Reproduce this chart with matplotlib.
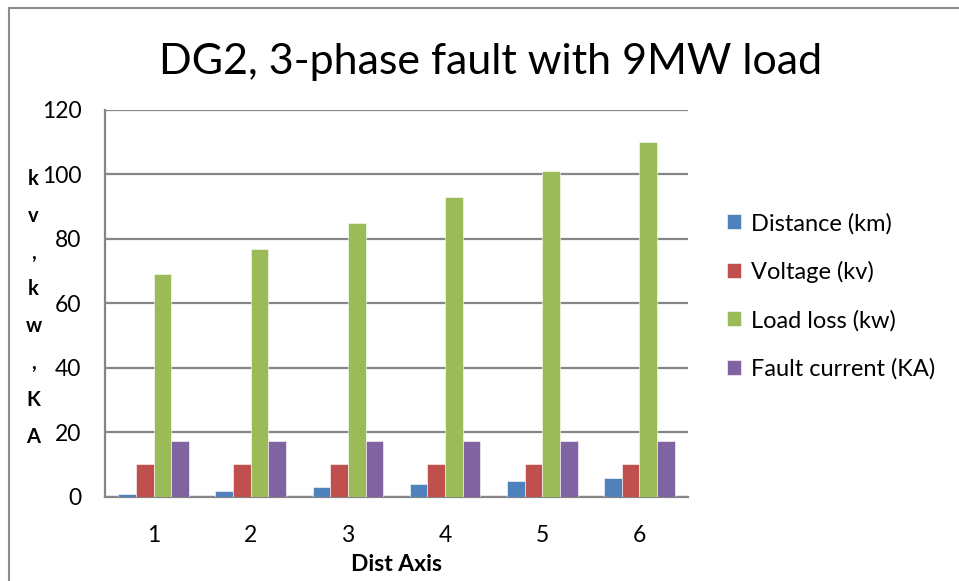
import matplotlib
matplotlib.use("Agg")
import matplotlib.pyplot as plt
import numpy as np
from matplotlib.lines import Line2D

plt.rcParams['font.family'] = ['Lato', 'DejaVu Sans']

# data
categories = ['1', '2', '3', '4', '5', '6']
distance = [1, 2, 3, 4, 5, 6]
voltage = [10.3, 10.3, 10.3, 10.3, 10.3, 10.3]
load_loss = [69, 77, 85, 93, 101, 110]
fault_current = [17.5, 17.5, 17.5, 17.5, 17.5, 17.5]

series = [
    ('Distance (km)', distance, '#4F81BD'),
    ('Voltage (kv)', voltage, '#C0504D'),
    ('Load loss (kw)', load_loss, '#9BBB59'),
    ('Fault current (KA)', fault_current, '#8064A2'),
]

fig = plt.figure(figsize=(9.59, 5.81), dpi=100)
ax = fig.add_axes([0.1095, 0.1446, 0.6079, 0.6661])

x = np.arange(len(categories))
w = 0.182
for i, (name, vals, col) in enumerate(series):
    ax.bar(x + (i - 1.5) * w, vals, width=w, color=col, label=name,
           edgecolor='white', linewidth=0.4, zorder=3)

ax.set_xlim(-0.5, 5.5)
ax.set_ylim(0, 120)
ax.set_yticks(range(0, 121, 20))
ax.set_xticks(x)
ax.set_xticklabels(categories)
ax.tick_params(axis='both', length=0, labelsize=16.5, colors='black')
ax.tick_params(axis='x', pad=20)
ax.tick_params(axis='y', pad=17)
ax.grid(axis='y', color='#868686', linewidth=1.6, zorder=0)
for s in ['top', 'right']:
    ax.spines[s].set_visible(False)
for s in ['left', 'bottom']:
    ax.spines[s].set_color('#868686')
    ax.spines[s].set_linewidth(1.6)

ax.set_xlabel('Dist Axis', fontsize=16.5, fontweight='bold', labelpad=6)
fig.text(0.035, 0.47, 'k\nv\n,\nk\nw\n,\nK\nA', fontsize=14.5, fontweight='bold',
         ha='center', va='center', linespacing=2.06)

fig.text(0.512, 0.893, 'DG2, 3-phase fault with 9MW load',
         fontsize=31, ha='center', va='center')

ax.legend(loc='center left', bbox_to_anchor=(1.031, 0.519), frameon=False,
          fontsize=17, handlelength=0.6, handleheight=0.6, handletextpad=0.42,
          labelspacing=1.13)

# chart border (cropped: only left and top visible)
fig.add_artist(Line2D([0.0095, 0.0095], [0, 0.986], color='#8c8c8c', linewidth=1.5))
fig.add_artist(Line2D([0.0095, 1], [0.986, 0.986], color='#8c8c8c', linewidth=1.5))

fig.savefig('out.png', dpi=100)
